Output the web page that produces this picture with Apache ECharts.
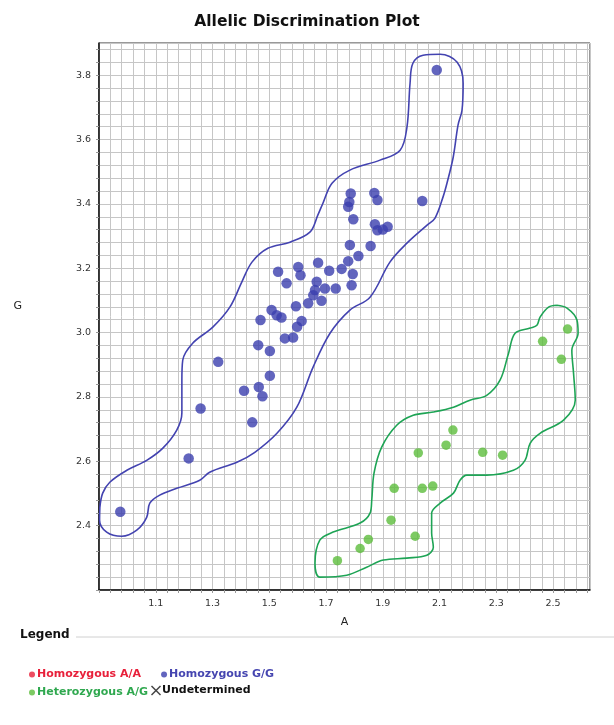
<!DOCTYPE html>
<html>
<head>
<meta charset="utf-8">
<script src="https://cdn.jsdelivr.net/npm/echarts@6/dist/echarts.min.js"></script>
<style>html,body{margin:0;padding:0;background:#fff;}#c{width:614px;height:725px;}</style>
</head>
<body>
<div id="c"></div>
<script>
// ---- data ----
const xTickLabels = ['1.1','1.3','1.5','1.7','1.9','2.1','2.3','2.5'];
const yTickLabels = ['2.4','2.6','2.8','3.0','3.2','3.4','3.6','3.8'];

const homozygousAA = [];
const homozygousGG = [
  [2.090,3.816],[1.787,3.432],[1.782,3.406],[1.778,3.391],[1.796,3.352],[1.870,3.434],
  [1.881,3.412],[2.039,3.409],[1.872,3.337],[1.881,3.318],[1.900,3.320],[1.917,3.329],
  [1.784,3.272],[1.857,3.269],[1.814,3.238],[1.778,3.222],[1.755,3.198],[1.794,3.182],
  [1.790,3.147],[1.672,3.217],[1.711,3.192],[1.602,3.204],[1.610,3.178],[1.531,3.189],
  [1.561,3.153],[1.667,3.158],[1.696,3.137],[1.734,3.137],[1.661,3.132],[1.655,3.116],
  [1.684,3.099],[1.637,3.091],[1.594,3.082],[1.508,3.070],[1.469,3.039],[1.526,3.054],
  [1.543,3.047],[1.614,3.036],[1.598,3.018],[1.555,2.982],[1.584,2.985],[1.461,2.961],
  [1.502,2.943],[1.320,2.909],[1.502,2.866],[1.411,2.819],[1.463,2.831],[1.476,2.802],
  [1.258,2.764],[1.440,2.721],[1.216,2.609],[0.975,2.443]
];
const heterozygousAG = [
  [2.147,2.697],[2.123,2.650],[2.025,2.626],[2.252,2.628],[2.322,2.619],[1.940,2.516],
  [2.039,2.516],[2.076,2.523],[1.929,2.417],[2.014,2.367],[1.849,2.357],[1.820,2.329],
  [1.740,2.291],[2.551,3.011],[2.463,2.973],[2.529,2.917]
];
const undetermined = [];

const contourGG = [
  [0.903,2.457],[0.913,2.501],[0.938,2.535],[0.998,2.572],[1.068,2.603],[1.125,2.641],
  [1.174,2.697],[1.192,2.750],[1.192,2.852],[1.195,2.914],[1.230,2.967],[1.301,3.017],
  [1.361,3.079],[1.403,3.157],[1.439,3.219],[1.495,3.262],[1.573,3.281],[1.643,3.312],
  [1.671,3.365],[1.689,3.402],[1.721,3.464],[1.784,3.505],[1.890,3.536],[1.961,3.567],
  [1.985,3.638],[1.996,3.775],[2.006,3.837],[2.042,3.862],[2.102,3.865],[2.162,3.840],
  [2.183,3.775],[2.179,3.691],[2.165,3.645],[2.148,3.545],[2.126,3.464],[2.112,3.421],
  [2.084,3.356],[2.056,3.334],[1.985,3.278],[1.925,3.219],[1.855,3.110],[1.784,3.070],
  [1.714,2.998],[1.654,2.892],[1.597,2.768],[1.527,2.687],[1.449,2.628],[1.386,2.597],
  [1.290,2.566],[1.255,2.541],[1.174,2.516],[1.114,2.495],[1.079,2.470],[1.068,2.426],
  [1.033,2.386],[0.980,2.367],[0.927,2.380],[0.902,2.417],[0.903,2.457]
];
const contourAG = [
  [2.513,3.085],[2.549,3.076],[2.584,3.039],[2.588,2.998],[2.566,2.945],[2.572,2.874],
  [2.578,2.790],[2.537,2.728],[2.454,2.687],[2.419,2.656],[2.401,2.603],[2.360,2.572],
  [2.266,2.557],[2.196,2.557],[2.172,2.541],[2.149,2.501],[2.102,2.470],[2.072,2.439],
  [2.072,2.377],[2.078,2.333],[2.055,2.308],[1.984,2.299],[1.902,2.293],[1.843,2.271],
  [1.773,2.246],[1.678,2.240],[1.661,2.283],[1.678,2.355],[1.725,2.380],[1.820,2.408],
  [1.855,2.439],[1.861,2.479],[1.869,2.563],[1.896,2.644],[1.949,2.712],[2.007,2.743],
  [2.078,2.753],[2.149,2.768],[2.207,2.790],[2.266,2.805],[2.313,2.852],[2.343,2.936],
  [2.366,2.998],[2.419,3.014],[2.443,3.023],[2.454,3.048],[2.484,3.079],[2.513,3.085]
];

// ---- chart ----
const FONT = 'DejaVu Sans';
const RED = '#e8203a', BLUE = '#3b3fae', GREEN = '#2fa84f', DOTGREEN = '#5cbd3c';
const CROSS = 'path://M0,1L1,0L5,4L9,0L10,1L6,5L10,9L9,10L5,6L1,10L0,9L4,5Z';
function labelFmt(list){
  return function(v){
    const r = Math.round(v*100)/100;
    const t = r.toFixed(1);
    return (Math.abs(r - parseFloat(t)) < 1e-6 && list.indexOf(t) >= 0) ? t : '';
  };
}
const legendText = {fontFamily: FONT, fontSize: 11, fontWeight: 'bold', padding: [0,0,0,-3]};
const chart = echarts.init(document.getElementById('c'));
chart.setOption({
  backgroundColor: '#ffffff',
  animation: false,
  title: {
    text: 'Allelic Discrimination Plot', left: 'center', top: 9,
    textStyle: {fontFamily: FONT, fontSize: 15.5, fontWeight: 'bold', color: '#111'}
  },
  grid: {left: 99, right: 24, top: 43, height: 547, show: true, borderColor: '#333', borderWidth: 1, backgroundColor: '#fff'},
  xAxis: {
    type: 'value', min: 0.9, max: 2.63, interval: 0.04,
    name: 'A', nameLocation: 'middle', nameGap: 27,
    nameTextStyle: {fontFamily: FONT, fontSize: 11, color: '#222'},
    axisLine: {show: true, onZero: false, lineStyle: {color: '#111', width: 1.5}},
    axisTick: {show: true, length: 3, lineStyle: {color: '#999'}},
    axisLabel: {interval: 0, formatter: labelFmt(xTickLabels), fontFamily: FONT, fontSize: 9.5, color: '#333', margin: 9, showMaxLabel: false},
    splitLine: {show: true, lineStyle: {color: '#c6c6c6', width: 1}}
  },
  yAxis: {
    type: 'value', min: 2.2, max: 3.9, interval: 0.04,
    name: 'G', nameLocation: 'middle', nameGap: 77, nameRotate: 0,
    nameTextStyle: {fontFamily: FONT, fontSize: 11, color: '#222', verticalAlign: 'bottom', lineHeight: 20},
    axisLine: {show: true, onZero: false, lineStyle: {color: '#111', width: 1.5}},
    axisTick: {show: true, length: 3, lineStyle: {color: '#999'}},
    axisLabel: {interval: 0, formatter: labelFmt(yTickLabels), fontFamily: FONT, fontSize: 9.5, color: '#333', margin: 8, showMaxLabel: false},
    splitLine: {show: true, lineStyle: {color: '#c6c6c6', width: 1}}
  },
  legend: [
    {left: 24, top: 664, itemWidth: 6, itemHeight: 6, itemGap: 20, selectedMode: false, textStyle: legendText,
     data: [
       {name: 'Homozygous A/A', icon: 'circle', textStyle: {color: RED}},
       {name: 'Homozygous G/G', icon: 'circle', textStyle: {color: '#4545b0'}}
     ]},
    {left: 24, top: 682, itemWidth: 6, itemHeight: 6, selectedMode: false, textStyle: legendText,
     data: [
       {name: 'Heterozygous A/G', icon: 'circle', textStyle: {color: GREEN}}
     ]},
    {left: 146, top: 680, itemWidth: 10, itemHeight: 10, selectedMode: false, textStyle: legendText,
     data: [
       {name: 'Undetermined', icon: CROSS, itemStyle: {color: '#111'}, textStyle: {color: '#111', padding: [0,0,0,-4]}}
     ]}
  ],
  graphic: [
    {type: 'text', left: 20, top: 629, style: {text: 'Legend', font: 'bold 12px "DejaVu Sans"', fill: '#111'}},
    {type: 'line', shape: {x1: 76, y1: 637, x2: 614, y2: 637}, style: {stroke: '#d0d0d0', lineWidth: 1}}
  ],
  series: [
    {name: 'Contour G/G', type: 'line', data: contourGG, smooth: 0.35, symbol: 'none', silent: true, z: 2,
     lineStyle: {color: '#4343b0', width: 1.6}},
    {name: 'Contour A/G', type: 'line', data: contourAG, smooth: 0.35, symbol: 'none', silent: true, z: 2,
     lineStyle: {color: '#1ea455', width: 1.6}},
    {name: 'Homozygous A/A', type: 'scatter', data: homozygousAA, symbolSize: 10, itemStyle: {color: RED}, z: 3},
    {name: 'Homozygous G/G', type: 'scatter', data: homozygousGG, symbolSize: 10.5, itemStyle: {color: BLUE}, z: 3},
    {name: 'Heterozygous A/G', type: 'scatter', data: heterozygousAG, symbolSize: 9.5, itemStyle: {color: DOTGREEN}, z: 3},
    {name: 'Undetermined', type: 'scatter', data: undetermined, symbol: CROSS, symbolSize: 9, itemStyle: {color: '#111'}, z: 3}
  ]
});
</script>
</body>
</html>
